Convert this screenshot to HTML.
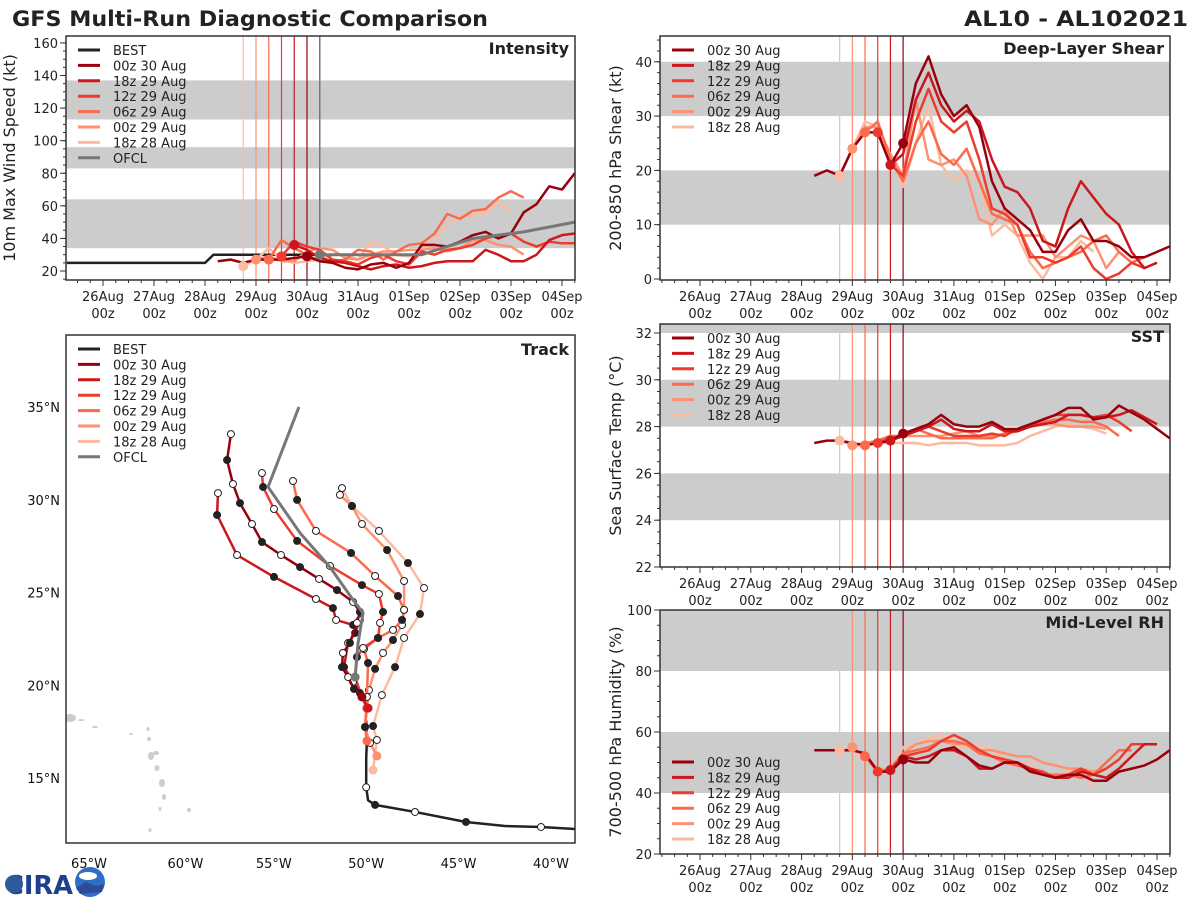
<!DOCTYPE html>
<html><head><meta charset="utf-8"><style>
body{margin:0;background:#fff;}
svg{display:block;font-family:"DejaVu Sans","Liberation Sans",sans-serif;}
</style></head><body>
<svg id="fig" width="1200" height="900" viewBox="0 0 1200 900" xmlns="http://www.w3.org/2000/svg">
<rect width="1200" height="900" fill="#fff"/>
<text x="12" y="26" font-size="21" font-weight="bold" fill="#222" textLength="476" lengthAdjust="spacingAndGlyphs">GFS Multi-Run Diagnostic Comparison</text>
<text x="1188" y="26" font-size="21" font-weight="bold" fill="#222" text-anchor="end" textLength="224" lengthAdjust="spacingAndGlyphs">AL10 - AL102021</text>
<g id="logo">
<text x="5" y="894" font-size="26" font-weight="bold" fill="#1f3f8f" textLength="68" lengthAdjust="spacingAndGlyphs">CIRA</text>
<circle cx="14" cy="884" r="9" fill="#2d5a9a"/>
<circle cx="90" cy="882" r="15" fill="#2f6fc6"/>
<ellipse cx="88" cy="876" rx="9" ry="4" fill="#fff"/>
<path d="M76 888 L86 882 L96 886 L104 884 L102 892 L80 894Z" fill="#304a9a"/>
</g>
<g id="root"></g>
</svg>
<script>
// ---------- data ----------
const runNames = ["00z 30 Aug","18z 29 Aug","12z 29 Aug","06z 29 Aug","00z 29 Aug","18z 28 Aug"];
const runColors = ["#99000d","#cb181d","#ef3b2c","#fb6a4a","#fc9272","#fcbba1"];
const runStartIdx = [0,6,5,4,3,2];   // 6-hourly index from 28Aug06z
const runInitIdx = [7,6,5,4,3,2];
const dayLabels = ["26Aug","27Aug","28Aug","29Aug","30Aug","31Aug","01Sep","02Sep","03Sep","04Sep"];

const intensity0 = [26,27,25,27,27,27,28,29,26,25,22,21,24,25,22,25,36,36,35,38,42,44,40,43,56,61,72,70,80];
const intensity1 = [36,33,28,26,25,23,21,23,24,22,23,25,26,26,26,33,30,26,26,30,39,42,43];
const intensity2 = [29,38,35,33,27,26,24,28,30,26,24,32,30,33,34,36,40,42,43,38,35,38,37,37];
const intensity3 = [27,39,34,30,26,26,27,33,32,27,32,36,37,43,55,52,57,58,65,69,65];
const intensity4 = [27,29,26,26,32,34,33,28,27,30,32,32,33,33,34,32,34,39,39,36,35,30];
const intensity5 = [23,27,34,27,25,26,27,30,30,27,38,35,30,29,32,40,48,54,54,56,62,57];
const bestTimes = [7,72,76,126];   // hours since 25Aug00z
const bestVals = [25,25,30,30];
const ofclTimes = [126,150,174,198,222,246];
const ofclVals = [30,30,30,40,44,50];

const shear0 = [19,20,19,24,27,27,21,25,36,41,34,30,32,28,18,13,11,9,5,5,9,11,7,7,6,4,4,5,6];
const shear1 = [21,23,33,38,32,29,31,29,22,17,16,13,7,6,13,18,15,12,10,5,2,3];
const shear2 = [27,21,19,29,35,29,27,29,22,13,12,10,4,4,3,4,6,2,0,1,3,2];
const shear3 = [27,29,22,18,25,29,23,21,24,18,12,11,10,5,2,3,4,5,7,8,5,3,4];
const shear4 = [24,28,28,23,19,33,22,21,22,19,11,10,13,8,8,8,4,6,8,7,2,5];
const shear5 = [19,24,29,28,23,17,25,32,21,18,20,18,8,10,8,3,0,4,4,7,5];

const sst0 = [27.3,27.4,27.4,27.3,27.2,27.3,27.4,27.7,27.9,28.1,28.5,28.1,28.0,28.0,28.2,27.9,27.9,28.1,28.3,28.5,28.8,28.8,28.3,28.4,28.9,28.6,28.3,27.9,27.5];
const sst1 = [27.4,27.6,27.8,28.0,28.3,27.9,27.8,27.8,28.1,27.8,27.8,28.0,28.1,28.2,28.5,28.5,28.4,28.4,28.5,28.7,28.4,28.1];
const sst2 = [27.3,27.5,27.6,27.8,28.0,27.8,27.6,27.6,27.6,27.7,27.6,27.9,28.0,28.3,28.5,28.5,28.5,28.4,28.5,28.2,27.8];
const sst3 = [27.2,27.4,27.6,27.6,27.9,27.7,27.5,27.5,27.5,27.5,27.5,27.7,27.8,28.0,28.2,28.3,28.3,28.2,28.2,28.0,27.6];
const sst4 = [27.2,27.3,27.4,27.6,27.6,27.6,27.6,27.6,27.7,27.8,27.6,27.6,27.7,27.9,28.1,28.2,28.1,28.0,28.0,28.0,27.9];
const sst5 = [27.4,27.2,27.2,27.3,27.3,27.3,27.3,27.2,27.3,27.3,27.3,27.2,27.2,27.2,27.3,27.6,27.8,28.0,28.1,28.0,27.9,27.7];

const rh0 = [54,54,54,54,53,47,47,51,50,50,54,55,52,49,48,50,50,47,46,45,46,46,44,44,47,48,49,51,54];
const rh1 = [47.5,52,51,52,54,54,52,48,48,50,50,48,46,45,45,47,46,45,48,52,56,56];
const rh2 = [47,47,52,53,54,57,59,57,54,52,51,50,48,47,45,46,48,46,48,51,56,56,56];
const rh3 = [52,47,48,53,54,55,57,57,56,53,52,50,49,48,46,46,46,45,46,50,54,54];
const rh4 = [55,52,48,47,53,56,57,57,56,56,54,54,53,52,52,50,49,48,48,47,48];
const rh5 = [54,54,52,47,47,55,56,58,59,56,55,56,54,51,50,50,46,45,47,48,42];

const bestLon = [-38.7,-40.54,-42.49,-44.6,-47.36,-49.52,-49.9,-50.0,-50.0,-49.96,-50.0];
const bestLat = [12.25,12.36,12.41,12.63,13.17,13.55,13.8,14.5,16.0,17.2,18.1];
const ofclLon = [-53.64,-55.31,-53.58,-51.96,-50.71,-50.17,-50.44,-50.6];
const ofclLat = [35.0,30.69,28.21,26.37,24.6,23.9,22.28,20.44];
const trackLon0 = [-57.32,-57.53,-57.21,-56.83,-56.18,-55.64,-54.61,-53.58,-52.55,-51.58,-50.71,-50.34,-50.5,-50.88,-51.26,-51.31,-50.98,-50.66,-50.23];
const trackLat0 = [33.54,32.14,30.85,29.82,28.69,27.72,27.02,26.37,25.73,25.13,24.49,23.95,23.36,22.28,21.74,20.98,20.44,19.8,19.37];
const trackLon1 = [-58.02,-58.07,-56.99,-54.99,-52.72,-51.80,-51.63,-50.71,-50.34,-50.6,-50.98,-51.2,-50.71,-50.34,-49.9];
const trackLat1 = [30.36,29.18,27.02,25.84,24.65,24.16,23.52,23.25,23.52,22.82,22.28,20.98,20.18,19.58,18.77];
const trackLon2 = [-55.64,-55.58,-54.99,-53.74,-51.96,-50.23,-49.31,-49.09,-49.25,-49.36,-50.17,-50.5,-50.6,-50.23,-49.96];
const trackLat2 = [31.44,30.69,29.5,27.78,26.43,25.4,24.92,23.95,23.36,22.55,22.01,21.52,20.44,19.37,18.77];
const trackLon3 = [-53.96,-53.74,-52.72,-50.82,-49.52,-48.28,-47.95,-48.06,-48.55,-49.36,-50.12,-49.9,-49.96,-50.06,-49.96];
const trackLat3 = [31.01,29.99,28.32,27.13,25.89,24.81,24.06,23.52,22.98,22.55,21.95,21.2,19.37,17.75,17.0];
const trackLon4 = [-51.42,-50.77,-50.23,-48.87,-47.95,-47.95,-48.06,-48.55,-49.09,-49.52,-49.85,-50.06,-49.79,-49.42];
const trackLat4 = [30.26,29.66,28.69,27.29,25.62,24.06,23.25,22.44,21.74,20.88,19.74,17.75,16.89,16.19];
const trackLon5 = [-51.31,-50.77,-49.31,-47.74,-46.87,-47.09,-47.95,-48.44,-49.15,-49.63,-49.42,-49.63];
const trackLat5 = [30.63,29.66,28.32,26.59,25.24,23.84,22.55,20.98,19.47,17.8,17.05,15.43];

const lonTicks = [-65,-60,-55,-50,-45,-40];
const latTicks = [15,20,25,30,35];

// ---------- helpers ----------
const NS="http://www.w3.org/2000/svg";
const root=document.getElementById('root');
function mk(tag,attrs,parent){const e=document.createElementNS(NS,tag);for(const k in attrs)e.setAttribute(k,attrs[k]);(parent||root).appendChild(e);return e;}
function txt(s,attrs,parent){const e=mk('text',attrs,parent);e.textContent=s;return e;}

function panel(cfg){
  const g=mk('g',{});
  
  
  const L=cfg.left,R=cfg.right,T=cfg.top,B=cfg.bottom;
  const x=t=>cfg.x0+(t-24)/24*cfg.dx;       // t in hours since 25Aug00z
  const y=v=>cfg.y0-(v-cfg.v0)*cfg.dy;
  const clip='clip-'+cfg.name;
  const cp=mk('clipPath',{id:clip},g);mk('rect',{x:L,y:T,width:R-L,height:B-T},cp);
  const inner=mk('g',{'clip-path':'url(#'+clip+')'},g);
  cfg.bands.forEach(b=>{const r=mk('rect',{x:L,y:y(b[1]),width:R-L,height:y(b[0])-y(b[1]),fill:'#cccccc'},inner);
    });
  for(let k=5;k>=0;k--){const t=78+6*runInitIdx[k];
    const l=mk('line',{x1:x(t),x2:x(t),y1:T,y2:B,stroke:runColors[k],'stroke-width':1.2},inner);
    }
  if(cfg.ofcl){const l=mk('line',{x1:x(126),x2:x(126),y1:T,y2:B,stroke:'#777','stroke-width':1.5},inner);
    }
  if(cfg.best){
    const p=mk('polyline',{points:bestTimes.map((t,i)=>x(t)+','+y(bestVals[i])).join(' '),fill:'none',stroke:'#222','stroke-width':2.5},inner);
    
  }
  for(let k=5;k>=0;k--){
    const vals=cfg.series[k];const s=runStartIdx[k];
    const p=mk('polyline',{points:vals.map((v,i)=>x(78+6*(s+i))+','+y(v)).join(' '),fill:'none',stroke:runColors[k],'stroke-width':2.5,'stroke-linejoin':'round'},inner);
    
    
  }
  for(let k=5;k>=0;k--){const i=runInitIdx[k]-runStartIdx[k];
    const c=mk('circle',{cx:x(78+6*runInitIdx[k]),cy:y(cfg.series[k][i]),r:5,fill:runColors[k]},inner);
    }
  if(cfg.ofcl){
    const p=mk('polyline',{points:ofclTimes.map((t,i)=>x(t)+','+y(ofclVals[i])).join(' '),fill:'none',stroke:'#777','stroke-width':3},inner);
    
    mk('circle',{cx:x(126),cy:y(30),r:5,fill:'#777'},inner);
  }
  const fr=mk('rect',{x:L,y:T,width:R-L,height:B-T,fill:'none',stroke:'#333','stroke-width':1.5},g);
  
  for(let h=0;h<=246;h+=6){const xx=x(h);if(xx<L||xx>R)continue;const maj=(h%24===0);
    mk('line',{x1:xx,x2:xx,y1:B,y2:B+(maj?6:3),stroke:'#333','stroke-width':1},g);}
  dayLabels.forEach((d,i)=>{const xx=x(24+24*i);
    const a=txt(d,{x:xx,y:B+21,'font-size':13,'text-anchor':'middle',fill:'#222'},g);
    
    txt('00z',{x:xx,y:B+38,'font-size':13,'text-anchor':'middle',fill:'#222'},g);});
  cfg.yticks.forEach(v=>{mk('line',{x1:L-6,x2:L,y1:y(v),y2:y(v),stroke:'#333','stroke-width':1},g);
    const a=txt(String(v),{x:L-8,y:y(v)+5,'font-size':13,'text-anchor':'end',fill:'#222'},g);
    });
  const st=(cfg.yticks[1]-cfg.yticks[0])/cfg.minor;
  for(let v=cfg.yticks[0]-st*cfg.minor;v<=cfg.yticks[cfg.yticks.length-1]+st*cfg.minor;v+=st){const yy=y(v);if(yy<T||yy>B)continue;
    mk('line',{x1:L-3,x2:L,y1:yy,y2:yy,stroke:'#333','stroke-width':1},g);}
  const yl=txt(cfg.ylabel,{x:0,y:0,'font-size':16,'text-anchor':'middle',fill:'#222',transform:`translate(${cfg.ylx},${(T+B)/2}) rotate(-90)`},g);
  
  const ti=txt(cfg.title,{x:R-6,y:T+18,'font-size':16,'font-weight':'bold','text-anchor':'end',fill:'#222'},g);
  
  legend(g,cfg.legX,cfg.legY,cfg.legBest,cfg.ofcl);
}
function legend(g,lx,ly,best,ofcl){
  const items=[];if(best)items.push(['BEST','#222']);
  runNames.forEach((n,k)=>items.push([n,runColors[k]]));
  if(ofcl)items.push(['OFCL','#777']);
  const lg=mk('g',{},g);
  items.forEach((it,i)=>{const yy=ly+i*15.4;
    const e=mk('g',{},lg);
    mk('line',{x1:lx,x2:lx+22,y1:yy,y2:yy,stroke:it[1],'stroke-width':3},e);
    txt(it[0],{x:lx+35,y:yy+5,'font-size':13,fill:'#222'},e);});
}

panel({name:'intensity-panel',left:66,right:575,top:36,bottom:280,x0:103,dx:51.0,y0:271,v0:20,dy:1.629,
  bands:[[34,64],[83,96],[113,137]],yticks:[20,40,60,80,100,120,140,160],minor:4,ylabel:'10m Max Wind Speed (kt)',ylx:15,
  title:'Intensity',series:[intensity0,intensity1,intensity2,intensity3,intensity4,intensity5],best:true,ofcl:true,legBest:true,legX:78,legY:50});
panel({name:'shear-panel',left:660,right:1170,top:36,bottom:280,x0:700,dx:50.78,y0:279,v0:0,dy:5.43,
  bands:[[10,20],[30,40]],yticks:[0,10,20,30,40],minor:5,ylabel:'200-850 hPa Shear (kt)',ylx:621,
  title:'Deep-Layer Shear',series:[shear0,shear1,shear2,shear3,shear4,shear5],legX:672,legY:50});
panel({name:'sst-panel',left:660,right:1170,top:324,bottom:567,x0:700,dx:50.78,y0:567,v0:22,dy:23.4,
  bands:[[24,26],[28,30],[32,34]],yticks:[22,24,26,28,30,32],minor:4,ylabel:'Sea Surface Temp (°C)',ylx:621,
  title:'SST',series:[sst0,sst1,sst2,sst3,sst4,sst5],legX:672,legY:338});
panel({name:'rh-panel',left:660,right:1170,top:610,bottom:854,x0:700,dx:50.78,y0:854,v0:20,dy:3.05,
  bands:[[40,60],[80,100]],yticks:[20,40,60,80,100],minor:4,ylabel:'700-500 hPa Humidity (%)',ylx:621,
  title:'Mid-Level RH',series:[rh0,rh1,rh2,rh3,rh4,rh5],legX:672,legY:762});

// ---------- track map ----------
(function(){
  const g=mk('g',{});
  const L=66,R=575,T=335,B=843;
  const px=lon=>89+(lon+65)*18.48, py=lat=>407-(lat-35)*18.55;
  const cp=mk('clipPath',{id:'clip-track'},g);mk('rect',{x:L,y:T,width:R-L,height:B-T},cp);
  const inner=mk('g',{'clip-path':'url(#clip-track)'},g);
  [[70,718,6,4],[81,720,3,1],[95,727,3,1],[131,734,2,1],[148,729,1.5,2],[149,739,2,2],[151,756,3,4],[156,753,3,2],[157,768,2.5,3],[162,783,3,4],[164,797,2,3],[160,809,1.5,2],[189,810,2,2],[150,830,1.5,2]].forEach(a=>{
    const e=mk('ellipse',{cx:a[0],cy:a[1],rx:a[2],ry:a[3],fill:'#cccccc'},inner);
    });
  function track(lons,lats,col,w,name,markers,endCol){
    const p=mk('polyline',{points:lons.map((v,i)=>px(v)+','+py(lats[i])).join(' '),fill:'none',stroke:col,'stroke-width':w,'stroke-linejoin':'round'},inner);
    
    if(markers){lons.forEach((v,i)=>{if(i===lons.length-1&&endCol){mk('circle',{cx:px(v),cy:py(lats[i]),r:4.5,fill:endCol},inner);return;}
      const open=(i%2===0);mk('circle',{cx:px(v),cy:py(lats[i]),r:3.5,fill:open?'#fff':'#222',stroke:'#222','stroke-width':1},inner);});}
  }
  const tl=[trackLon0,trackLon1,trackLon2,trackLon3,trackLon4,trackLon5];
  const tt=[trackLat0,trackLat1,trackLat2,trackLat3,trackLat4,trackLat5];
  track(bestLon,bestLat,'#222',2.5,'best-track',false);
  for(let k=5;k>=0;k--)track(tl[k],tt[k],runColors[k],2.5,'track-'+runNames[k].replace(/ /g,'-').toLowerCase(),true,runColors[k]);
  track(ofclLon,ofclLat,'#777',3,'ofcl-track',false);
  [1,3,4,5,7].forEach((i,j)=>mk('circle',{cx:px(bestLon[i]),cy:py(bestLat[i]),r:3.5,fill:j%2?'#222':'#fff',stroke:'#222'},inner));
  mk('circle',{cx:px(-50.6),cy:py(20.44),r:4.5,fill:'#777'},inner);
  const fr=mk('rect',{x:L,y:T,width:R-L,height:B-T,fill:'none',stroke:'#333','stroke-width':1.5},g);
  
  lonTicks.forEach(v=>{const a=txt(Math.abs(v)+'°W',{x:px(v)+(v===-60?4:0),y:868,'font-size':13,'text-anchor':'middle',fill:'#111'},g);
    });
  latTicks.forEach(v=>{const a=txt(v+'°N',{x:60,y:py(v)+5,'font-size':13,'text-anchor':'end',fill:'#111'},g);
    });
  const ti=txt('Track',{x:R-6,y:T+20,'font-size':16,'font-weight':'bold','text-anchor':'end',fill:'#222'},g);
  
  legend(g,78,349,true,true);
})();
</script>
</body></html>
